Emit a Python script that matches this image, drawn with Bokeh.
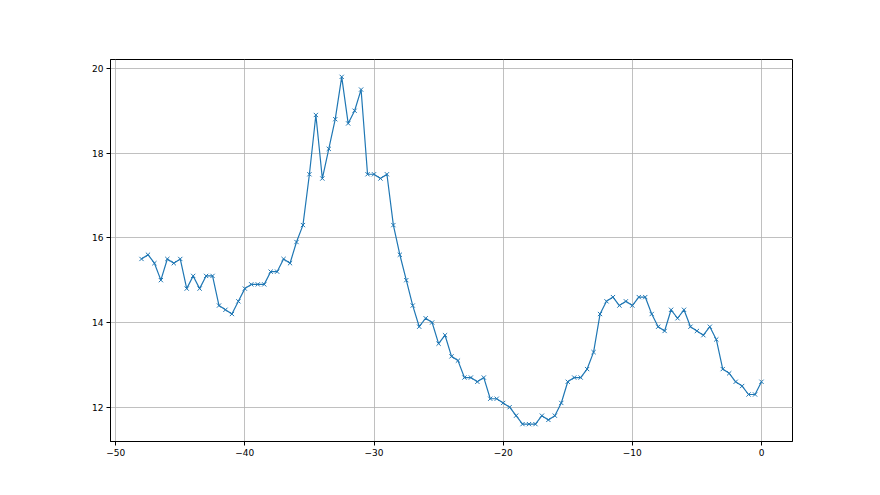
from bokeh.plotting import figure
from bokeh.embed import file_html
from bokeh.resources import INLINE
from bokeh.models import SingleIntervalTicker, CustomJSTickFormatter, Range1d

x_start = -48.0
x_step = 0.5
values = [
    15.5, 15.6, 15.4, 15.0, 15.5, 15.4, 15.5, 14.8, 15.1, 14.8,
    15.1, 15.1, 14.4, 14.3, 14.2, 14.5, 14.8, 14.9, 14.9, 14.9,
    15.2, 15.2, 15.5, 15.4, 15.9, 16.3, 17.5, 18.9, 17.4, 18.1,
    18.8, 19.8, 18.7, 19.0, 19.5, 17.5, 17.5, 17.4, 17.5, 16.3,
    15.6, 15.0, 14.4, 13.9, 14.1, 14.0, 13.5, 13.7, 13.2, 13.1,
    12.7, 12.7, 12.6, 12.7, 12.2, 12.2, 12.1, 12.0, 11.8, 11.6,
    11.6, 11.6, 11.8, 11.7, 11.8, 12.1, 12.6, 12.7, 12.7, 12.9,
    13.3, 14.2, 14.5, 14.6, 14.4, 14.5, 14.4, 14.6, 14.6, 14.2,
    13.9, 13.8, 14.3, 14.1, 14.3, 13.9, 13.8, 13.7, 13.9, 13.6,
    12.9, 12.8, 12.6, 12.5, 12.3, 12.3, 12.6,
]
xs = [x_start + i * x_step for i in range(len(values))]

p = figure(width=872, height=487, output_backend="svg", toolbar_location=None,
           x_range=Range1d(-50.4, 2.4), y_range=Range1d(11.19, 20.21),
           min_border_left=110, min_border_right=80, min_border_top=59, min_border_bottom=46)
p.background_fill_color = "white"
p.border_fill_color = "white"
p.outline_line_color = "black"
p.outline_line_width = 1

p.line(xs, values, line_color="#1f77b4", line_width=1.2)
p.scatter(xs, values, marker="x", size=6, line_color="#1f77b4", line_width=1)

p.xaxis.ticker = SingleIntervalTicker(interval=10)
p.yaxis.ticker = SingleIntervalTicker(interval=2)
p.xaxis.formatter = CustomJSTickFormatter(code="return (tick < 0 ? '\u2212' + Math.abs(tick) : '' + tick);")
p.yaxis.formatter = CustomJSTickFormatter(code="return '' + tick;")

for ax in (p.xaxis, p.yaxis):
    ax.axis_line_color = "black"
    ax.major_tick_line_color = "black"
    ax.major_tick_out = 4
    ax.major_tick_in = 0
    ax.minor_tick_line_color = None
    ax.major_label_text_font = "DejaVu Sans"
    ax.major_label_text_font_size = "9px"
    ax.major_label_text_color = "black"
    ax.major_label_standoff = 3

p.grid.grid_line_color = "#b0b0b0"
p.grid.grid_line_width = 0.8

open("out.html", "w").write(file_html(p, INLINE))
